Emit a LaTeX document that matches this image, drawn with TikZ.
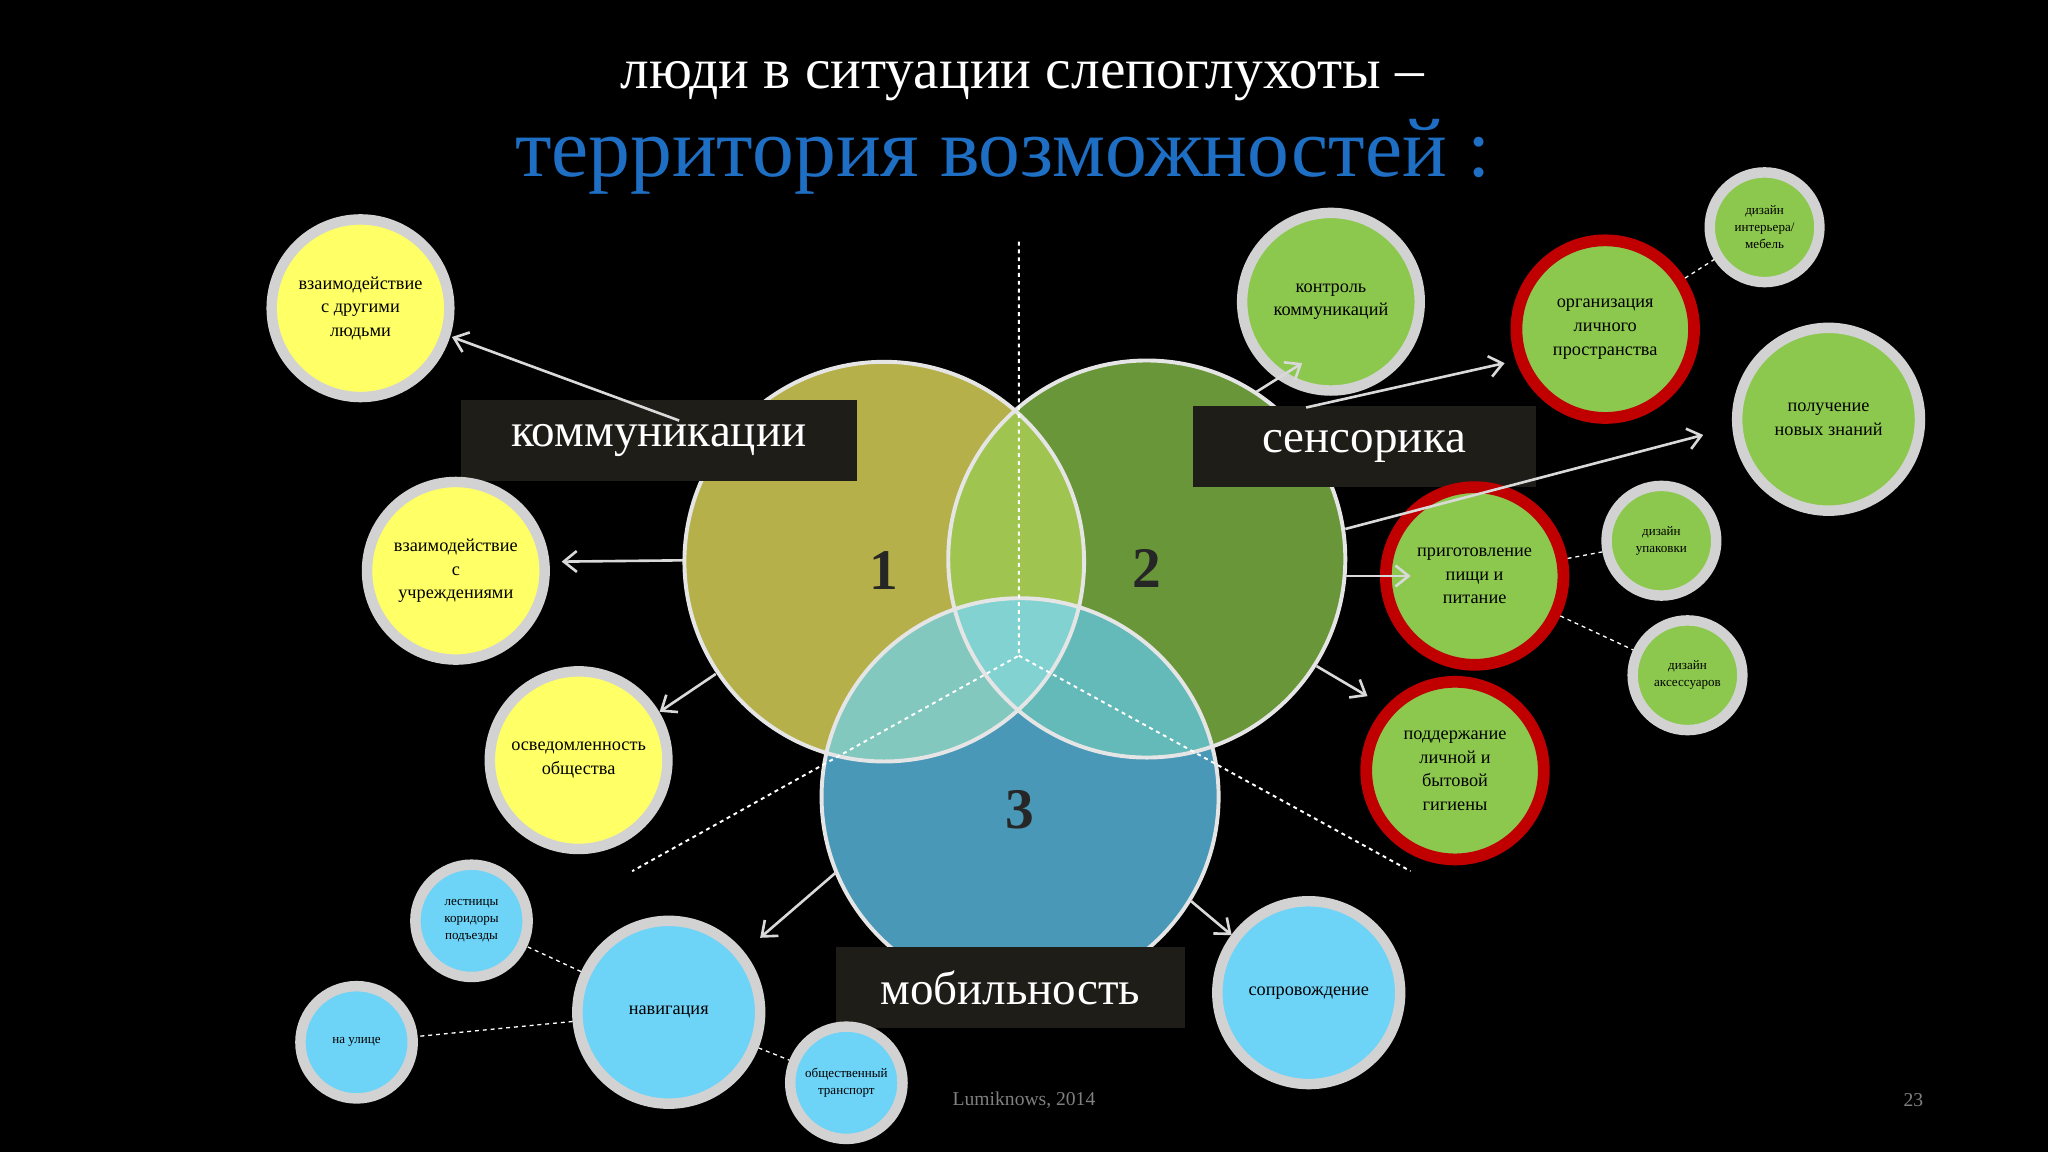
\documentclass[tikz,border=0pt]{standalone}
\usepackage{fontspec}
\setmainfont{Liberation Serif}
\usetikzlibrary{arrows.meta}
\definecolor{ylw}{HTML}{FFFF66}
\definecolor{grn}{HTML}{8CC84E}
\definecolor{blu}{HTML}{6DD3F7}
\definecolor{ring}{HTML}{D2D2D2}
\definecolor{redring}{HTML}{C00000}
\definecolor{titleblue}{HTML}{1E6FC3}
\definecolor{labbg}{HTML}{1F1D18}
\tikzset{
 sc/.style={circle,draw=ring,line width=8pt,align=center,inner sep=0pt,font=\fontsize{14}{18}\selectfont},
 rc/.style={sc,draw=redring,line width=9pt},
 tiny/.style={font=\fontsize{10}{13}\selectfont},
 lab/.style={fill=labbg,text=white,font=\fontsize{36}{40}\selectfont,inner sep=0pt,minimum height=62pt},
 arr/.style={draw=white!85!black,line width=2pt,-{Straight Barb[length=10pt,width=16pt]}},
 dsh/.style={draw=white,line width=1.5pt,dashed},
 num/.style={font=\bfseries\fontsize{44}{44}\selectfont,text=black!85}
}
\begin{document}
\begin{tikzpicture}[x=1pt,y=-1pt]
\fill[black] (0,0) rectangle (1568,882);
\useasboundingbox (0,0) rectangle (1568,882);
\node[text=white,font=\fontsize{44}{48}\selectfont] (t1) at (783,62) {люди в ситуации слепоглухоты –};
\node[text=titleblue,font=\fontsize{64}{66}\selectfont] (t2) at (768,120) {территория возможностей :};
% big circles
\coordinate (A) at (677,430); \coordinate (B) at (878,428); \coordinate (C) at (781,610);
\fill[fill={rgb,255:red,181;green,176;blue,74}] (A) circle (153);
\fill[fill={rgb,255:red,106;green,150;blue,58}] (B) circle (152);
\fill[fill={rgb,255:red,74;green,152;blue,184}] (C) circle (152);
\begin{scope}\clip (A) circle (153); \fill[fill={rgb,255:red,160;green,196;blue,80}] (B) circle (152);\end{scope}
\begin{scope}\clip (A) circle (153); \fill[fill={rgb,255:red,130;green,200;blue,190}] (C) circle (152);\end{scope}
\begin{scope}\clip (B) circle (152); \fill[fill={rgb,255:red,100;green,185;blue,185}] (C) circle (152);\end{scope}
\begin{scope}\clip (A) circle (153); \clip (B) circle (152); \fill[fill={rgb,255:red,130;green,210;blue,210}] (C) circle (152);\end{scope}
\draw[white!80!gray,line width=3pt] (A) circle (153) (B) circle (152) (C) circle (152);
\node[num] (n1) at (677,437) {1};
\node[num] (n2) at (878,435) {2};
\node[num] (n3) at (781,620) {3};
% dashed
\coordinate (d0) at (780,185); \coordinate (dc) at (780,502);
\coordinate (dl) at (484,667); \coordinate (dr) at (1080,667);
\draw[dsh] (d0) -- (dc) -- (dl); \draw[dsh] (dc) -- (dr);
% labels
\node[lab,minimum width=303pt] (lk) at (504.5,337) {коммуникации};
\node[lab,minimum width=263pt] (ls) at (1044.5,341.5) {сенсорика};
\node[lab,minimum width=267pt] (lm) at (773.5,756) {мобильность};
% small circles
\node[sc,fill=ylw,minimum size=136pt] (y1) at (276,236) {взаимодействие\\с другими\\людьми};
\node[sc,fill=ylw,minimum size=136pt] (y2) at (349,437) {взаимодействие\\с\\учреждениями};
\node[sc,fill=ylw,minimum size=136pt] (y3) at (443,582) {осведомленность\\общества};
\node[sc,fill=grn,minimum size=136pt] (g1) at (1019,231) {контроль\\коммуникаций};
\node[rc,fill=grn,minimum size=136pt] (g2) at (1229,252) {организация\\личного\\пространства};
\node[sc,tiny,fill=grn,minimum size=84pt] (g3) at (1351,174) {дизайн\\интерьера/\\мебель};
\node[sc,fill=grn,minimum size=140pt] (g4) at (1400,321) {получение\\новых знаний};
\node[rc,fill=grn,minimum size=136pt] (g5) at (1129,441) {приготовление\\пищи и\\питание};
\node[sc,tiny,fill=grn,minimum size=84pt] (g6) at (1272,414) {дизайн\\упаковки};
\node[sc,tiny,fill=grn,minimum size=84pt] (g7) at (1292,517) {дизайн\\аксессуаров};
\node[rc,fill=grn,minimum size=136pt] (g8) at (1114,590) {поддержание\\личной и\\бытовой\\гигиены};
\node[sc,fill=blu,minimum size=140pt] (b1) at (1002,760) {сопровождение};
\node[sc,fill=blu,minimum size=140pt] (b2) at (512,775) {навигация};
\node[sc,tiny,fill=blu,minimum size=86pt] (b3) at (361,705) {лестницы\\коридоры\\подъезды};
\node[sc,tiny,fill=blu,minimum size=86pt] (b4) at (273,798) {на улице};
\node[sc,tiny,fill=blu,minimum size=86pt] (b5) at (648,829) {общественный\\транспорт};
% dashed links
\draw[dsh,line width=1pt] (g2) -- (g3);
\draw[dsh,line width=1pt] (g5) -- (g6);
\draw[dsh,line width=1pt] (g5) -- (g7);
\draw[dsh,line width=1pt] (b2) -- (b3);
\draw[dsh,line width=1pt] (b2) -- (b4);
\draw[dsh,line width=1pt] (b2) -- (b5);
% arrows
\coordinate (a1) at (520,322); \coordinate (a2) at (523,429); \coordinate (a3) at (548,516);
\coordinate (a4) at (962,300); \coordinate (a5) at (1000,312); \coordinate (a6) at (1030,405);
\coordinate (a7) at (1030,441); \coordinate (a8) at (1008,510); \coordinate (a9) at (640,668);
\coordinate (a10) at (912,690);
\coordinate (e1) at (346,258); \coordinate (e2) at (430,430); \coordinate (e3) at (505,545);
\coordinate (e4) at (997,278); \coordinate (e5) at (1152,278); \coordinate (e6) at (1304,333);
\coordinate (e7) at (1080,441); \coordinate (e8) at (1047,533); \coordinate (e9) at (582,718);
\coordinate (e10) at (943,716);
\foreach \i in {1,...,10} {\draw[arr] (a\i) -- (e\i);}
\node[text=gray,font=\fontsize{15}{15}\selectfont] (f1) at (784,842) {Lumiknows, 2014};
\node[text=gray,font=\fontsize{15}{15}\selectfont] (f2) at (1465,842) {23};
\end{tikzpicture}
\end{document}
